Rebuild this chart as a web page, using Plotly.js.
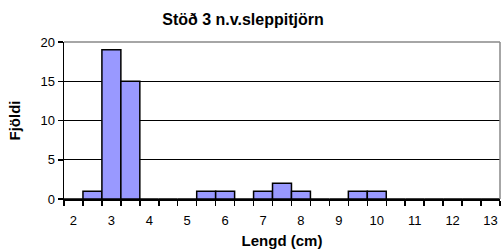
<!DOCTYPE html>
<html><head><meta charset="utf-8">
<script src="https://cdn.plot.ly/plotly-3.0.1.min.js"></script>
<style>html,body{margin:0;padding:0;background:#fff}#c{width:501px;height:252px}</style>
</head><body><div id="c"></div>
<script>
const lengths = [2,2.5,3,3.5,4,4.5,5,5.5,6,6.5,7,7.5,8,8.5,9,9.5,10,10.5,11,11.5,12,12.5,13];
const counts  = [0,1,19,15,0,0,0,1,1,0,1,2,1,0,0,1,1,0,0,0,0,0,0];
const xTickVals = [2,3,4,5,6,7,8,9,10,11,12,13];
const yTickVals = [0,5,10,15,20];
const titleText = "Stöð 3 n.v.sleppitjörn";
const xTitle = "Lengd (cm)";
const yTitle = "Fjöldi";

const F = "Liberation Sans, Arial, sans-serif";
Plotly.newPlot('c', [{
  type:'bar', x:lengths, y:counts, width:0.5,
  marker:{color:'#9999FF', line:{color:'#000', width:1.5}},
  hoverinfo:'skip'
}], {
  width:501, height:252,
  margin:{l:64, r:1, t:42, b:53},
  paper_bgcolor:'#fff', plot_bgcolor:'#fff',
  showlegend:false,
  title:{text:'<b>'+titleText+'</b>', font:{family:F, size:16, color:'#000'}, xref:'container', x:0.485, y:0.925, yanchor:'middle'},
  xaxis:{range:[1.75,13.25], tickvals:xTickVals, ticktext:xTickVals.map(String),
    ticks:'', ticklabelstandoff:9, showgrid:false, zeroline:false,
    showline:true, linecolor:'#000', linewidth:1.5,
    tickfont:{family:F, size:13, color:'#000'},
    minor:{ticks:'outside', tick0:1.75, dtick:0.5, ticklen:5, tickcolor:'#000', tickwidth:1.5, showgrid:false},
    title:{text:'<b>'+xTitle+'</b>', font:{family:F, size:15, color:'#000'}, standoff:8}},
  yaxis:{range:[0,20], tickvals:yTickVals, ticks:'outside', ticklen:5, tickcolor:'#000', tickwidth:1.5,
    showgrid:true, gridcolor:'#000', gridwidth:1, zeroline:false,
    showline:true, linecolor:'#000', linewidth:1.5,
    tickfont:{family:F, size:13, color:'#000'},
    title:{text:'<b>'+yTitle+'</b>', font:{family:F, size:15, color:'#000'}, standoff:16}},
  shapes:[
    {type:'line', xref:'paper', yref:'paper', x0:0, x1:1, y0:1, y1:1, line:{color:'#888', width:1.5}, layer:'above'},
    {type:'line', xref:'paper', yref:'paper', x0:1, x1:1, y0:0, y1:1, line:{color:'#888', width:1.5}, layer:'above'}
  ],
  bargap:0
}, {staticPlot:true, displayModeBar:false});
</script></body></html>
